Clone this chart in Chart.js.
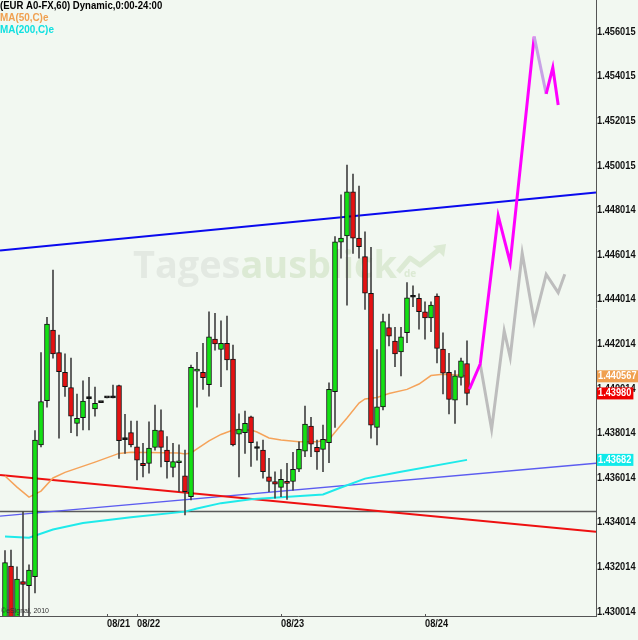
<!DOCTYPE html>
<html>
<head>
<meta charset="utf-8">
<script src="https://cdn.jsdelivr.net/npm/chart.js@4.4.1/dist/chart.umd.min.js"></script>
<style>
body { margin: 0; background: #f2f8f1; }
#wrap { width: 638px; height: 640px; }
</style>
</head>
<body>
<div id="wrap"><canvas id="myChart" width="638" height="640"></canvas></div>
<script>
// EUR/USD hourly candles, 08/20 - 08/24
const opens = [1.42919,1.43206,1.42919,1.43136,1.43118,1.43158,1.43749,1.43947,1.44264,1.44163,
	1.44075,1.44006,1.43846,1.43871,1.43957,1.43911,1.43939,1.43960,1.43960,1.44015,
	1.43776,1.43804,1.43741,1.43666,1.43666,1.43738,1.43813,1.43726,1.43648,1.43669,
	1.43611,1.43517,1.44080,1.44075,1.44019,1.44224,1.44177,1.44205,1.44134,1.43797,
	1.43804,1.43875,1.43735,1.43726,1.43606,1.43585,1.43559,1.43585,1.43585,1.43640,
	1.43721,1.43833,1.43738,1.43729,1.43759,1.43988,1.44658,1.44686,1.44884,1.44676,
	1.44593,1.44429,1.43828,1.43920,1.44275,1.44215,1.44166,1.44252,1.44411,1.44406,
	1.44346,1.44319,1.44417,1.44179,1.44075,1.43950,1.44052,1.44114];
const highs = [1.43275,1.43278,1.43203,1.43450,1.43211,1.43813,1.44163,1.44321,1.44533,1.44242,
	1.44157,1.44138,1.43977,1.44037,1.44052,1.44008,1.43939,1.43960,1.44017,1.44017,
	1.43886,1.43856,1.43856,1.43756,1.43853,1.43928,1.43906,1.43786,1.43756,1.43749,
	1.43726,1.44107,1.44164,1.44205,1.44346,1.44339,1.44306,1.44327,1.44197,1.43888,
	1.43901,1.43878,1.43763,1.43771,1.43689,1.43628,1.43639,1.43666,1.43716,1.43763,
	1.43923,1.43873,1.43771,1.43838,1.44028,1.44683,1.44870,1.45004,1.44964,1.44910,
	1.44705,1.44635,1.44177,1.44336,1.44336,1.44276,1.44276,1.44477,1.44462,1.44426,
	1.44391,1.44391,1.44426,1.44252,1.44160,1.44082,1.44138,1.44216];
const lows = [1.42897,1.42897,1.42897,1.42919,1.42919,1.43085,1.43740,1.43918,1.44138,1.43779,
	1.43966,1.43804,1.43789,1.43816,1.43816,1.43878,1.43939,1.43960,1.43960,1.43689,
	1.43711,1.43740,1.43592,1.43606,1.43622,1.43726,1.43651,1.43600,1.43606,1.43540,
	1.43435,1.43502,1.43918,1.43998,1.43968,1.44174,1.44010,1.44085,1.43745,1.43606,
	1.43711,1.43653,1.43681,1.43600,1.43540,1.43510,1.43517,1.43505,1.43546,1.43629,
	1.43696,1.43696,1.43639,1.43629,1.43669,1.43828,1.44586,1.44376,1.44608,1.44586,
	1.44357,1.43779,1.43749,1.43906,1.44193,1.44100,1.44059,1.44207,1.44369,1.44268,
	1.44223,1.44257,1.44117,1.43978,1.43888,1.43846,1.44017,1.43928];
const closes = [1.43221,1.42919,1.43148,1.43124,1.43188,1.43771,1.43943,1.44291,1.44157,1.44077,
	1.44010,1.43878,1.43868,1.43946,1.43960,1.43936,1.43939,1.43960,1.43960,1.43768,
	1.43773,1.43749,1.43681,1.43656,1.43735,1.43816,1.43738,1.43674,1.43674,1.43673,
	1.43540,1.44097,1.44088,1.44051,1.44234,1.44202,1.44205,1.44130,1.43749,1.43820,
	1.43846,1.43759,1.43733,1.43629,1.43585,1.43573,1.43595,1.43577,1.43640,1.43729,
	1.43843,1.43753,1.43718,1.43774,1.43998,1.44660,1.44676,1.44884,1.44676,1.44638,
	1.44429,1.43838,1.43920,1.44302,1.44237,1.44157,1.44234,1.44409,1.44412,1.44346,
	1.44319,1.44376,1.44182,1.44071,1.43953,1.44059,1.44126,1.43980];

// moving averages (bar index, value)
const ma50Bars = [0,2,4,6,8,10,15,19,21,29,30,31,32,34,36,38,41,42,44,46,49,52,54,56,57,59,60,62,64,67,69,71,73,76,77];
const ma50Vals = [1.43610,1.43560,1.43515,1.43542,1.43601,1.43626,1.43672,1.43711,1.43716,1.43713,1.43708,1.43713,
	1.43731,1.43767,1.43796,1.43816,1.43816,1.43807,1.43780,1.43771,1.43763,1.43763,1.43773,1.43838,
	1.43870,1.43937,1.43955,1.43962,1.43980,1.43998,1.44022,1.44060,1.44066,1.44062,1.440567];
const ma200Bars = [0,4,8,13,21,30,32,36,41,46,53,56,60,66,77];
const ma200Vals = [1.43338,1.43333,1.43370,1.43399,1.43425,1.43450,1.43464,1.43488,1.43505,1.43514,1.43527,
	1.43558,1.43598,1.43629,1.43682];

// forecast paths
const fcMagentaBars = [77.4,79.2,82.2,84.2,88.2,90.2,91.3,92.2];
const fcMagentaVals = [1.43999,1.44112,1.44776,1.44566,1.45580,1.45323,1.45441,1.45273];
const fcGrayBars = [79.2,81.1,83.2,84.2,86.2,88.2,90.2,92.2,93.3];
const fcGrayVals = [1.44112,1.43819,1.44261,1.44142,1.44609,1.44302,1.44514,1.44432,1.44514];

// trend lines (start / end)
const lineBars = [-0.83, 98.5];
const blueTrend = [1.44621, 1.44881];
const redTrend = [1.43614, 1.43360];
const thinTrend = [1.43430, 1.43667];
const flatLine = [1.43451, 1.43451];

const yTicks = [1.430014,1.432014,1.434014,1.436014,1.438014,1.440014,1.442014,1.444014,1.446014,1.448014,1.450015,1.452015,1.454015,1.456015];
const yTickLabels = ['1.430014','1.432014','1.434014','1.436014','1.438014','1.440014','1.442014','1.444014','1.446014','1.448014','1.450015','1.452015','1.454015','1.456015'];
const xTicks = [17, 22, 46, 70];
const xTickLabels = ['08/21', '08/22', '08/23', '08/24'];

const FONT = "'Liberation Sans', Arial, sans-serif";
Chart.defaults.font.family = FONT;

const pts = (xs, ys) => xs.map((x, i) => ({x: x, y: ys[i]}));
const bodyColor = (i) => {
	const d = closes[i] - opens[i];
	if (Math.abs(d) < 0.00003) return '#000000';
	return d > 0 ? '#14e014' : '#e41212';
};

// the narrow eSignal lettering is imitated with fillText's maxWidth
const narrow = (ctx, text, x, y, ratio) => {
	ctx.fillText(text, x, y, ctx.measureText(text).width * ratio);
};

const extras = {
	id: 'extras',
	beforeDatasetsDraw(chart) {
		const ctx = chart.ctx;
		ctx.save();
		// watermark
		ctx.textBaseline = 'alphabetic';
		ctx.font = "bold 38px 'Open Sans', sans-serif";
		const w1 = ctx.measureText('Tages').width, w2 = ctx.measureText('ausblick').width;
		const k = 264 / (w1 + w2);
		ctx.font = "bold " + (38 * k).toFixed(1) + "px 'Open Sans', sans-serif";
		ctx.fillStyle = '#e3e9e2';
		ctx.fillText('Tages', 133, 278);
		ctx.fillStyle = '#dcead4';
		ctx.fillText('ausblick', 133 + w1 * k, 278);
		ctx.font = "bold 10px 'Open Sans', sans-serif";
		ctx.fillText('de', 404, 277);
		ctx.strokeStyle = '#dcead4';
		ctx.lineWidth = 5;
		ctx.lineJoin = 'round';
		ctx.beginPath();
		ctx.moveTo(398, 272); ctx.lineTo(410, 258); ctx.lineTo(420, 265); ctx.lineTo(441, 248);
		ctx.stroke();
		ctx.beginPath();
		ctx.moveTo(433, 246); ctx.lineTo(446, 244); ctx.lineTo(444, 257); ctx.closePath();
		ctx.fillStyle = '#dcead4';
		ctx.fill();
		ctx.restore();
	},
	afterDraw(chart) {
		const ctx = chart.ctx;
		const x = chart.scales.x, y = chart.scales.y;
		ctx.save();
		ctx.textBaseline = 'middle';
		ctx.textAlign = 'left';
		ctx.font = 'bold 11px ' + FONT;
		ctx.fillStyle = '#000';
		narrow(ctx, '(EUR A0-FX,60) Dynamic,0:00-24:00', 0, 6, 0.87);
		ctx.fillStyle = '#f0a050';
		narrow(ctx, 'MA(50,C)e', 0, 18, 0.9);
		ctx.fillStyle = '#10e0e0';
		narrow(ctx, 'MA(200,C)e', 0, 30, 0.9);

		// axis labels
		ctx.fillStyle = '#111';
		yTicks.forEach((v, i) => narrow(ctx, yTickLabels[i], 597, y.getPixelForValue(v), 0.84));
		ctx.strokeStyle = '#555';
		ctx.lineWidth = 1;
		xTicks.forEach((v, i) => {
			const px = Math.round(x.getPixelForValue(v)) + 0.5;
			ctx.beginPath(); ctx.moveTo(px, x.top - 2); ctx.lineTo(px, x.top); ctx.stroke();
			narrow(ctx, xTickLabels[i], px - 0.5, x.top + 7.5, 0.84);
		});

		ctx.font = '7px ' + FONT;
		ctx.fillStyle = '#333';
		ctx.fillText('\u00a9eSignal, 2010', 1, 611);

		// last value boxes on the price axis
		const boxes = [
			[ma50Vals[ma50Vals.length - 1], ma50Vals[ma50Vals.length - 1].toFixed(6), '#f0a050'],
			[closes[closes.length - 1], closes[closes.length - 1].toFixed(5), '#ee0000'],
			[ma200Vals[ma200Vals.length - 1], ma200Vals[ma200Vals.length - 1].toFixed(5), '#10eaea']
		];
		ctx.font = 'bold 11px ' + FONT;
		boxes.forEach(b => {
			const py = y.getPixelForValue(b[0]);
			const tw = ctx.measureText(b[1]).width * 0.84;
			ctx.fillStyle = b[2];
			ctx.fillRect(597, py - 6, tw + 3, 12);
			ctx.fillStyle = '#fff';
			narrow(ctx, b[1], 598, py, 0.84);
		});
		ctx.restore();
	}
};

const data = {
	datasets: [
		{type: 'line', data: pts(fcMagentaBars, fcMagentaVals), borderColor: '#ff00ff', borderWidth: 3, order: 0,
			segment: {borderColor: c => c.p0DataIndex === 4 ? '#c7a2e6' : undefined}},
		{type: 'line', data: pts(fcGrayBars, fcGrayVals), borderColor: '#bdbdbd', borderWidth: 3, order: 1},
		{type: 'bar', data: opens.map((o, i) => ({x: i, y: [o, closes[i]]})), order: 2, grouped: false,
			barThickness: 5, minBarLength: 2, borderWidth: 1, borderColor: '#111', borderSkipped: false,
			backgroundColor: c => bodyColor(c.dataIndex)},
		{type: 'bar', data: lows.map((l, i) => ({x: i, y: [l, highs[i]]})), order: 3, grouped: false,
			barThickness: 1, backgroundColor: '#444', borderWidth: 0},
		{type: 'line', data: pts(ma50Bars, ma50Vals), borderColor: '#f5a35a', borderWidth: 1.5, order: 4},
		{type: 'line', data: pts(ma200Bars, ma200Vals), borderColor: '#1eeaea', borderWidth: 2, order: 5},
		{type: 'line', data: pts(lineBars, blueTrend), borderColor: '#0a0aee', borderWidth: 2, order: 6},
		{type: 'line', data: pts(lineBars, redTrend), borderColor: '#ee1111', borderWidth: 2, order: 7},
		{type: 'line', data: pts(lineBars, thinTrend), borderColor: '#5c5cf0', borderWidth: 1.3, order: 8},
		{type: 'line', data: pts(lineBars, flatLine), borderColor: '#5a5a5a', borderWidth: 1.5, order: 9}
	]
};

const config = {
	type: 'bar',
	data: data,
	plugins: [extras],
	options: {
		responsive: false,
		animation: false,
		layout: {padding: 0},
		elements: {point: {radius: 0}, line: {tension: 0}},
		plugins: {legend: {display: false}, tooltip: {enabled: false}},
		scales: {
			x: {
				type: 'linear', min: -0.833, max: 98.5, offset: false,
				grid: {display: false},
				border: {display: true, color: '#555', width: 1},
				afterBuildTicks: s => { s.ticks = xTicks.map(v => ({value: v})); },
				afterFit: s => { s.height = 24; },
				ticks: {display: false}
			},
			y: {
				type: 'linear', position: 'right', min: 1.42982, max: 1.45744,
				grid: {display: false, drawTicks: false},
				border: {display: true, color: '#555', width: 1},
				afterBuildTicks: s => { s.ticks = yTicks.map(v => ({value: v})); },
				afterFit: s => { s.width = 42; },
				ticks: {display: false}
			}
		}
	}
};

const myChart = new Chart(
	document.getElementById('myChart'),
	config
);
</script>
</body>
</html>
